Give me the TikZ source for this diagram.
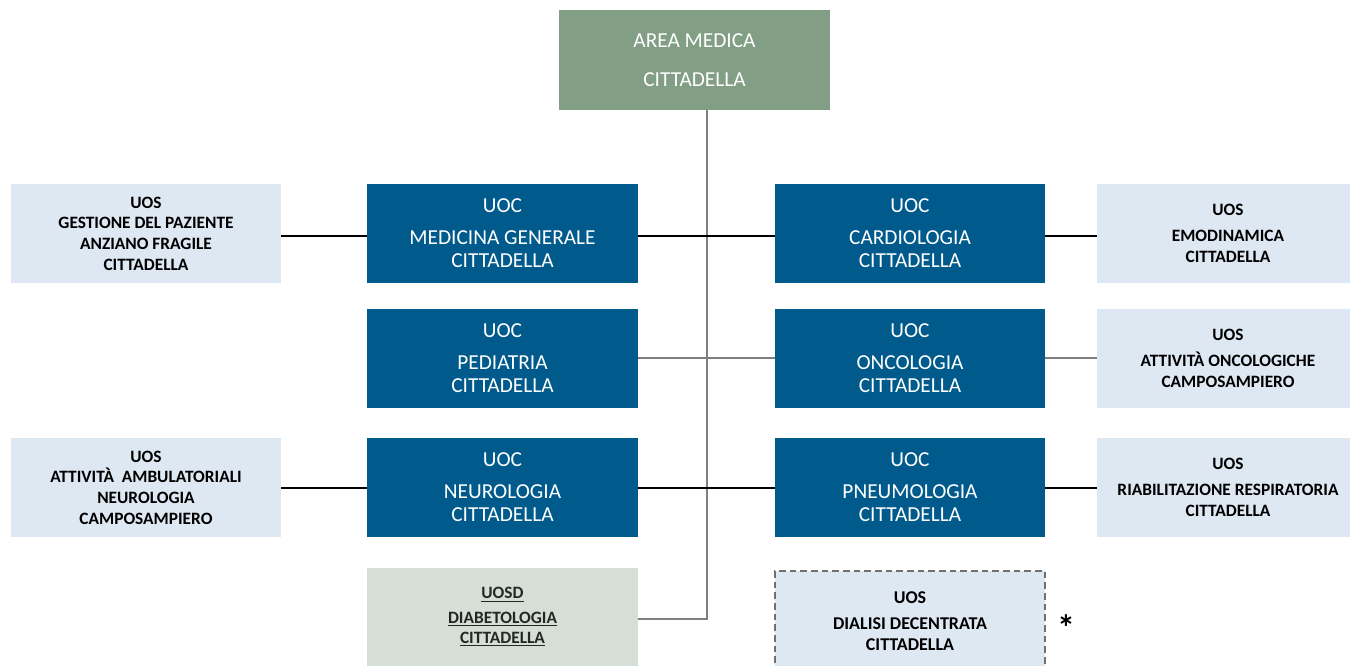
\documentclass[tikz,border=0pt]{standalone}
\usepackage{fontspec}
\setmainfont{Carlito}
\definecolor{areagreen}{HTML}{829F86}
\definecolor{uocblue}{HTML}{005B8C}
\definecolor{uoslight}{HTML}{DEE8F3}
\definecolor{uosdgreen}{HTML}{D5DFD5}
\definecolor{trunkgray}{HTML}{7F7F7F}
\definecolor{dashgray}{HTML}{707070}
\begin{document}
\begin{tikzpicture}[x=0.75pt,y=-0.75pt,
  areabox/.style={fill=areagreen, text=white, align=center, inner sep=0pt,
    minimum width=203.25pt, minimum height=75pt,
    font=\fontsize{16}{29}\selectfont},
  uocbox/.style={fill=uocblue, text=white, align=center, inner sep=0pt,
    minimum width=203.25pt, minimum height=74.25pt,
    font=\fontsize{16}{17.25}\selectfont},
  uosbox/.style={fill=uoslight, text=black, align=center, inner sep=0pt,
    minimum height=74.25pt,
    font=\fontsize{13}{15.5}\selectfont\bfseries},
  uosdbox/.style={fill=uosdgreen, text=black!85, align=center, inner sep=0pt,
    minimum width=203.25pt, minimum height=73.5pt,
    font=\fontsize{13}{15}\selectfont\bfseries},
  dashbox/.style={fill=uoslight, draw=dashgray, line width=0.8pt,
    dash pattern=on 5pt off 3pt, text=black, align=center, inner sep=0pt,
    minimum width=202.5pt, minimum height=75pt,
    font=\fontsize{13.5}{15.5}\selectfont\bfseries},
  link/.style={draw=black, line width=0.8pt},
  glink/.style={draw=trunkgray, line width=1pt},
  trunk/.style={draw=trunkgray, line width=1.2pt}]
\useasboundingbox (0,0) rectangle (1350,666);
\clip (0,0) rectangle (1350,666);
\fill[white] (0,0) rectangle (1350,666);

% top
\node[areabox] (area) at (694.5,60) {AREA MEDICA\\CITTADELLA};

% UOC left
\node[uocbox] (medgen) at (502.5,233.5) {UOC\\[6.75pt]MEDICINA GENERALE\\CITTADELLA};
\node[uocbox] (ped) at (502.5,358.5) {UOC\\[6.75pt]PEDIATRIA\\CITTADELLA};
\node[uocbox] (neuro) at (502.5,487.5) {UOC\\[6.75pt]NEUROLOGIA\\CITTADELLA};
% UOC right
\node[uocbox, minimum width=202.5pt] (cardio) at (910,233.5) {UOC\\[6.75pt]CARDIOLOGIA\\CITTADELLA};
\node[uocbox, minimum width=202.5pt] (onco) at (910,358.5) {UOC\\[6.75pt]ONCOLOGIA\\CITTADELLA};
\node[uocbox, minimum width=202.5pt] (pneumo) at (910,487.5) {UOC\\[6.75pt]PNEUMOLOGIA\\CITTADELLA};

% UOS left
\node[uosbox, minimum width=202.5pt] (gest) at (146,233.5) {UOS\\GESTIONE DEL PAZIENTE\\ANZIANO FRAGILE\\CITTADELLA};
\node[uosbox, minimum width=202.5pt] (ambul) at (146,487.5) {UOS\\ATTIVITÀ\ \ AMBULATORIALI\\NEUROLOGIA\\CAMPOSAMPIERO};
% UOS right
\node[uosbox, minimum width=196.5pt] (emo) at (1228,233.5) {UOS\\[4pt]EMODINAMICA\\CITTADELLA};
\node[uosbox, minimum width=196.5pt] (attonc) at (1228,358.5) {UOS\\[4pt]ATTIVITÀ ONCOLOGICHE\\CAMPOSAMPIERO};
\node[uosbox, minimum width=196.5pt] (riab) at (1228,487.5) {UOS\\[4pt]RIABILITAZIONE RESPIRATORIA\\CITTADELLA};

% bottom
\node[uosdbox] (diab) at (502.5,617) {\underline{UOSD}\\[3.5pt]\underline{DIABETOLOGIA}\\\underline{CITTADELLA}};
\node[dashbox] (dial) at (910,621) {UOS\\[4pt]DIALISI DECENTRATA\\CITTADELLA};
\node[font=\fontsize{27}{27}\selectfont\bfseries, inner sep=0pt] (star) at (1066,628) {*};

% trunk
\coordinate (tb) at (707,619);
\draw[trunk] (area.south -| tb) -- (tb) -- (diab.east |- tb);

% connectors
\draw[link] (gest.east |- 0,236) -- (medgen.west |- 0,236);
\draw[link] (medgen.east |- 0,236) -- (cardio.west |- 0,236);
\draw[link] (cardio.east |- 0,236) -- (emo.west |- 0,236);
\draw[glink] (ped.east |- 0,358) -- (onco.west |- 0,358);
\draw[glink] (onco.east |- 0,358) -- (attonc.west |- 0,358);
\draw[link] (ambul.east |- 0,488) -- (neuro.west |- 0,488);
\draw[link] (neuro.east |- 0,488) -- (pneumo.west |- 0,488);
\draw[link] (pneumo.east |- 0,488) -- (riab.west |- 0,488);
\end{tikzpicture}
\end{document}
